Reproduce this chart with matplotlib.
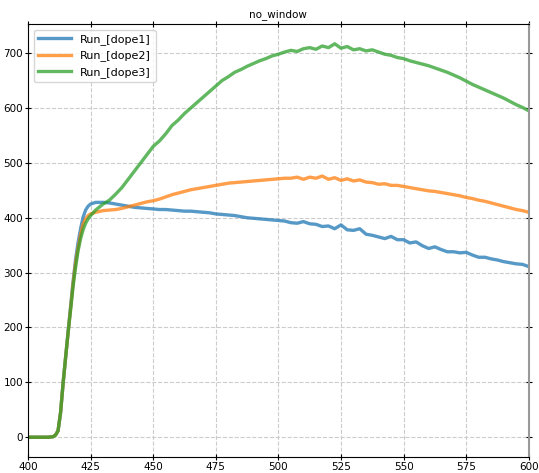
import numpy as np
import matplotlib
matplotlib.use("Agg")
import matplotlib.pyplot as plt

# wavelength grid (nm)
wl = [400, 405, 408, 410, 411, 412, 413, 414, 415, 416, 417, 418, 419, 420, 421, 422, 423, 424, 425, 427,
      430, 432.5, 435, 437.5, 440, 442.5, 445, 447.5, 450, 452.5, 455, 457.5, 460, 462.5, 465, 467.5,
      470, 472.5, 475, 477.5, 480, 482.5, 485, 487.5, 490, 492.5, 495, 497.5, 500, 502.5, 505, 507.5,
      510, 512.5, 515, 517.5, 520, 522.5, 525, 527.5, 530, 532.5, 535, 537.5, 540, 542.5, 545, 547.5,
      550, 552.5, 555, 557.5, 560, 562.5, 565, 567.5, 570, 572.5, 575, 577.5, 580, 582.5, 585, 587.5,
      590, 592.5, 595, 597.5, 600]

dope1 = [0, 0, 0, 1, 4, 12, 45, 98, 145, 192, 238, 284, 324, 355, 380, 401, 414, 421, 425, 428,
         428, 427, 425, 423, 421, 419, 418, 417, 416, 415, 415, 414, 413, 412, 412, 411,
         410, 409, 407, 406, 405, 404, 402, 400, 399, 398, 397, 396, 395, 394, 391, 390,
         393, 389, 388, 384, 385, 380, 387, 378, 377, 380, 370, 368, 365, 362, 366, 360,
         360, 354, 356, 349, 344, 347, 342, 338, 338, 336, 337, 332, 328, 328, 325, 323,
         320, 318, 316, 315, 311]

dope2 = [0, 0, 0, 1, 4, 12, 45, 98, 145, 190, 235, 280, 318, 345, 370, 388, 398, 404, 407, 410,
         413, 414, 415, 417, 420, 423, 426, 429, 431, 434, 438, 442, 445, 448, 451, 453,
         455, 457, 459, 461, 463, 464, 465, 466, 467, 468, 469, 470, 471, 472, 472, 474,
         470, 474, 472, 476, 470, 473, 468, 471, 467, 469, 465, 464, 461, 462, 459, 459,
         457, 455, 453, 451, 449, 448, 446, 444, 442, 440, 437, 435, 432, 430, 427, 424,
         421, 418, 415, 413, 410]

dope3 = [0, 0, 0, 1, 4, 12, 45, 98, 145, 190, 232, 275, 310, 340, 362, 378, 390, 398, 404, 414,
         425, 432, 443, 455, 470, 485, 500, 515, 530, 540, 553, 568, 578, 590, 600, 610,
         620, 630, 640, 650, 657, 665, 670, 676, 681, 686, 690, 695, 698, 702, 705, 703,
         708, 710, 707, 713, 710, 717, 709, 712, 706, 708, 704, 706, 702, 698, 696, 692,
         690, 686, 683, 680, 677, 673, 669, 665, 660, 655, 649, 643, 638, 633, 628, 623,
         618, 612, 606, 601, 595]

labels = ["Run_[dope1]", "Run_[dope2]", "Run_[dope3]"]

fig = plt.figure(figsize=(5.39, 4.73), dpi=100)
ax = fig.add_axes([0.052, 0.034, 0.929, 0.915])

for y, lab in zip([dope1, dope2, dope3], labels):
    ax.plot(wl, y, lw=2.4, alpha=0.75, label=lab)

ax.set_xlim(400, 600)
ax.set_xticks(np.arange(400, 601, 25))
ax.set_yticks(np.arange(0, 701, 100))
ax.grid(True, ls="--", color="#cccccc", lw=0.8)
ax.tick_params(direction="inout", top=True, right=True, labelsize=7.5, length=5, pad=1)
ax.spines["right"].set_color("#999999")
ax.spines["right"].set_linewidth(1.5)
ax.set_title("no_window", fontsize=7.5, pad=5)
ax.legend(loc="upper left", fontsize=8, handlelength=3)

fig.savefig("out.png", dpi=100)
